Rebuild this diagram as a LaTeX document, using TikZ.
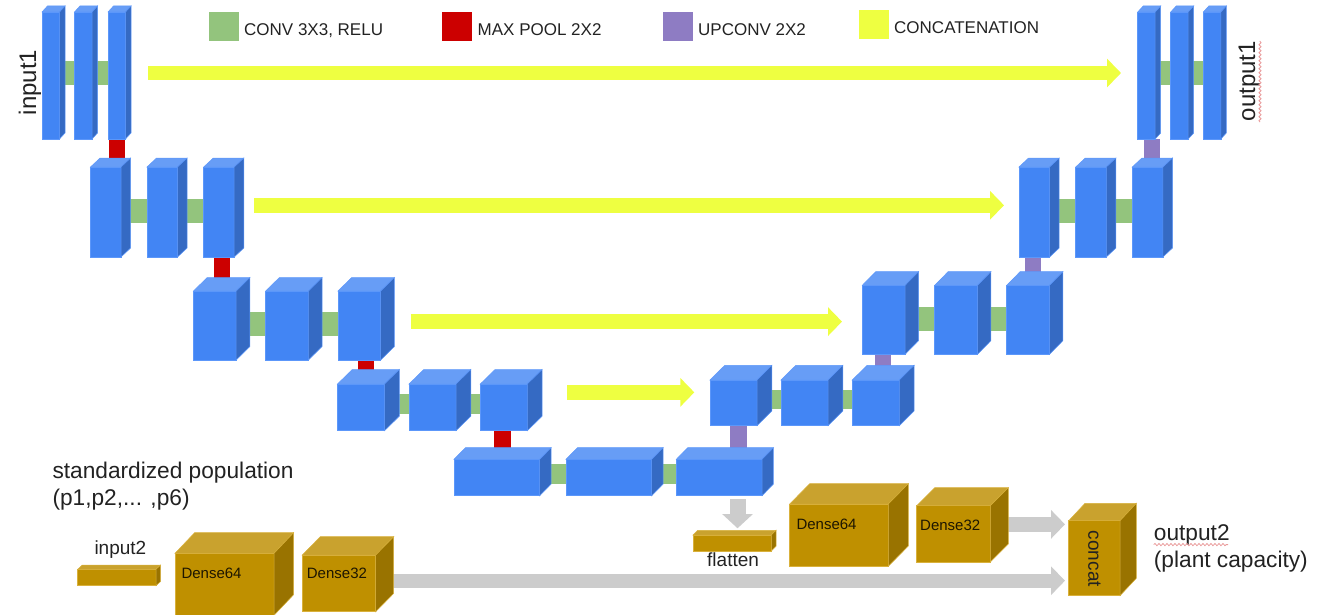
\documentclass[tikz,border=0pt]{standalone}
\usepackage{fontspec}
\setmainfont{Liberation Sans}
\usetikzlibrary{arrows.meta,backgrounds,decorations.pathmorphing}
\definecolor{blockBlue}{HTML}{4285F4}
\definecolor{blockBlueTop}{HTML}{679DF6}
\definecolor{blockBlueSide}{HTML}{356AC3}
\definecolor{blockBlueEdge}{HTML}{5C97FA}
\definecolor{blockGold}{HTML}{BF9000}
\definecolor{blockGoldTop}{HTML}{C9A22E}
\definecolor{blockGoldSide}{HTML}{997300}
\definecolor{blockGoldEdge}{HTML}{D9B13C}
\definecolor{convGreen}{HTML}{93C47D}
\definecolor{poolRed}{HTML}{CC0000}
\definecolor{upPurple}{HTML}{8E7CC3}
\definecolor{concatYellow}{HTML}{EEFF41}
\definecolor{flowGray}{HTML}{CCCCCC}
\definecolor{inkDark}{HTML}{222222}
\definecolor{spellPink}{HTML}{E99A9A}
\tikzset{
  blueFront/.style={fill=blockBlue,draw=blockBlueEdge,line width=0.5pt},
  blueTop/.style={fill=blockBlueTop,draw=blockBlueEdge,line width=0.5pt},
  blueSide/.style={fill=blockBlueSide,draw=blockBlueEdge,line width=0.5pt},
  goldFront/.style={fill=blockGold,draw=blockGoldEdge,line width=0.5pt},
  goldTop/.style={fill=blockGoldTop,draw=blockGoldEdge,line width=0.5pt},
  goldSide/.style={fill=blockGoldSide,draw=blockGoldEdge,line width=0.5pt},
  convBar/.style={convGreen,line width=24pt},
  convBarThin/.style={convGreen,line width=19.5pt},
  poolBar/.style={poolRed,line width=16.5pt},
  upBar/.style={upPurple,line width=16.5pt},
  concatArrow/.style={concatYellow,line width=14.4pt,-{Triangle[length=14pt,width=28pt]}},
  flowArrow/.style={flowGray,line width=14.4pt,-{Triangle[length=14pt,width=28pt]}},
  legendBox/.style={minimum width=30pt,minimum height=29pt,inner sep=0pt,anchor=north west},
  legendText/.style={inkDark,anchor=base west,inner sep=0pt,font=\fontsize{17}{20}\selectfont},
  bigLabel/.style={inkDark,anchor=base west,inner sep=0pt,font=\fontsize{24}{28}\selectfont},
  midLabel/.style={inkDark,anchor=base west,inner sep=0pt,font=\fontsize{22.7}{26}\selectfont},
  smallLabel/.style={inkDark,anchor=base west,inner sep=0pt,font=\fontsize{19}{22}\selectfont},
  denseLabel/.style={black!85!blockGold,anchor=base west,inner sep=0pt,font=\fontsize{15}{18}\selectfont},
  spellMark/.style={spellPink,line width=0.8pt,decorate,decoration={snake,amplitude=1.1pt,segment length=4pt}}
}
\newcommand{\drawBlock}[8]{
  \node[#2Front,minimum width=#5pt,minimum height=#6pt,inner sep=0pt,outer sep=0pt,anchor=north west] (#1) at (#3,#4) {};
  \filldraw[#2Top] (#1.north west)--++(#7,-#8)--++(#5,0)--(#1.north east)--cycle;
  \filldraw[#2Side] (#1.north east)--++(#7,-#8)--++(0,#6)--(#1.south east)--cycle;
}
\begin{document}
\begin{tikzpicture}[x=1pt,y=-1pt]
\useasboundingbox (0,0) rectangle (1324,615);
\node[legendBox,fill=convGreen] (keyConv) at (208.5,12) {};
\node[legendBox,fill=poolRed] (keyPool) at (442,12) {};
\node[legendBox,fill=upPurple] (keyUp) at (662.5,12) {};
\node[legendBox,fill=concatYellow] (keyConcat) at (859,10) {};
\node[legendText] (keyConvText) at (244,36) {CONV 3X3, RELU};
\node[legendText] (keyPoolText) at (477.5,36) {MAX POOL 2X2};
\node[legendText] (keyUpText) at (698,36) {UPCONV 2X2};
\node[legendText] (keyConcatText) at (894,33.5) {CONCATENATION};
\foreach \nm/\x in {inA/42,inB/74.5,inC/108}
  {\drawBlock{\nm}{blue}{\x}{12}{17.5}{127}{5.5}{6}}
\foreach \nm/\x in {downAa/90.5,downAb/147,downAc/203.7}
  {\drawBlock{\nm}{blue}{\x}{167}{30.5}{90}{9.6}{9}}
\foreach \nm/\x in {downBa/193.5,downBb/265.7,downBc/338}
  {\drawBlock{\nm}{blue}{\x}{291}{42.7}{69}{13.7}{13.5}}
\foreach \nm/\x in {downCa/337.5,downCb/409,downCc/480.3}
  {\drawBlock{\nm}{blue}{\x}{384}{47}{46.7}{14.8}{14.5}}
\foreach \nm/\x in {midA/454,midB/566,midC/676.3}
  {\drawBlock{\nm}{blue}{\x}{459.3}{85.7}{36.4}{11.4}{11.6}}
\foreach \nm/\x in {upCa/710,upCb/781,upCc/852.3}
  {\drawBlock{\nm}{blue}{\x}{380}{47}{45.7}{14.8}{14.7}}
\foreach \nm/\x in {upBa/862.3,upBb/934.7,upBc/1006.7}
  {\drawBlock{\nm}{blue}{\x}{285.3}{42.8}{69}{13.4}{13.6}}
\foreach \nm/\x in {upAa/1019,upAb/1075.7,upAc/1132.3}
  {\drawBlock{\nm}{blue}{\x}{167}{30.6}{90}{9.6}{9}}
\foreach \nm/\x in {outA/1137.7,outB/1170.7,outC/1203.3}
  {\drawBlock{\nm}{blue}{\x}{12}{17.5}{127}{5.5}{6}}
\drawBlock{inputTwo}{gold}{77.7}{569.3}{78.3}{16.4}{4.6}{4.3}
\drawBlock{denseAa}{gold}{175}{553.3}{99}{62}{19.6}{20.6}
\drawBlock{denseAb}{gold}{302.3}{555}{73.4}{56.7}{18}{18.3}
\drawBlock{flatten}{gold}{693}{535}{78.3}{16}{4.7}{4.7}
\drawBlock{denseBa}{gold}{789.7}{504}{98.6}{62.3}{20}{20.3}
\drawBlock{denseBb}{gold}{916.7}{505.7}{73.6}{56.3}{18}{18}
\drawBlock{concat}{gold}{1068.7}{520.7}{51.3}{75}{16.3}{17.4}
\begin{scope}[on background layer]
\foreach \a/\b/\s in {inA/inC/2.5,downAa/downAc/1,downBa/downBc/1.5,upBa/upBc/1,upAa/upAc/1,outA/outC/2.5}
  \draw[convBar] ([yshift=\s pt]\a.east)--([yshift=\s pt]\b.west);
\foreach \a/\b/\s in {downCa/downCc/3.5,midA/midC/3.3,upCa/upCc/3.5}
  \draw[convBarThin] ([yshift=\s pt]\a.east)--([yshift=\s pt]\b.west);
\foreach \a/\b/\s in {inC/downAc/0,downAc/downBc/2.8,downBc/downCa/6.5,downCc/midA/-1.3}
  \draw[poolBar] ([xshift=\s pt]\a.south)--([xshift=\s pt]\a.south |- \b.north);
\foreach \a/\b/\s in {upCa/midC/4.8,upBa/upCc/-0.6,upAa/upBc/-1.2,outA/upAc/5.3}
  \draw[upBar] ([xshift=\s pt]\a.south)--([xshift=\s pt]\a.south |- \b.north);
\draw[flowArrow,shorten >=3.7pt] ([yshift=9.5pt]denseBb.east)--([yshift=9.5pt]denseBb.east -| concat.west);
\coordinate (lowEntry) at ([yshift=-22.5pt]concat.west);
\draw[flowArrow,shorten >=3.7pt] (denseAb.east |- lowEntry)--(lowEntry);
\end{scope}
\draw[concatArrow,shorten <=22.5pt,shorten >=16.7pt] ([yshift=2.5pt]inC.east)--([yshift=2.5pt]outA.west);
\draw[concatArrow,shorten <=20pt,shorten >=15pt] ([yshift=6.7pt]downAc.east)--([yshift=6.7pt]upAa.west);
\draw[concatArrow,shorten <=30pt,shorten >=20.3pt] ([yshift=-1.8pt]downBc.east |- upBa.west)--([yshift=-1.8pt]upBa.west);
\draw[concatArrow,shorten <=39.7pt,shorten >=15.7pt] ([yshift=10.5pt]downCc.east |- upCa.west)--([yshift=10.5pt]upCa.west);
\draw[flowArrow,line width=16pt,-{Triangle[length=14.3pt,width=30pt]},shorten <=3.6pt,shorten >=6.7pt] ([xshift=18.4pt]midC.south)--([xshift=18.4pt]midC.south |- flatten.north);
\node[bigLabel,rotate=90] (inputOne) at (36,115.5) {input1};
\node[bigLabel,rotate=90] (outputOne) at (1255,121.5) {output1};
\node[midLabel] (popLine) at (52.3,478.3) {standardized population};
\node[midLabel] (popRange) at (52.3,505) {(p1,p2,... ,p6)};
\node[smallLabel] (inputTwoText) at (94.3,554) {input2};
\node[smallLabel] (flattenText) at (707,566) {flatten};
\node[denseLabel] (denseAaText) at (181.3,578.3) {Dense64};
\node[denseLabel] (denseAbText) at (306.7,578.3) {Dense32};
\node[denseLabel] (denseBaText) at (796.3,529.3) {Dense64};
\node[denseLabel] (denseBbText) at (920,530.7) {Dense32};
\node[smallLabel,rotate=-90] (concatText) at (1088.3,530.7) {concat};
\node[midLabel] (outputTwo) at (1153.7,540) {output2};
\node[midLabel] (outputTwoNote) at (1153.7,567.7) {(plant capacity)};
\draw[spellMark] (1153.7,544.6)--(1228,544.6);
\draw[spellMark] (1260,122)--(1260,41);
\end{tikzpicture}
\end{document}
